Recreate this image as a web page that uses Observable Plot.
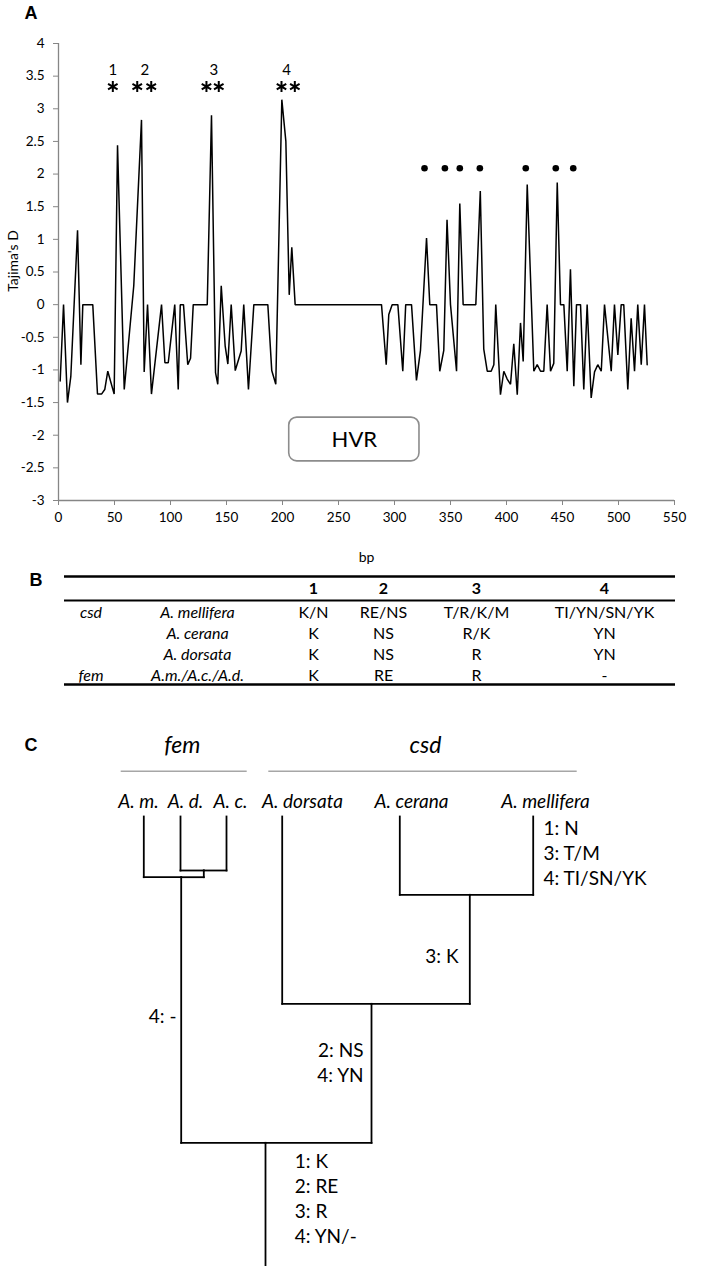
<!DOCTYPE html>
<html><head><meta charset="utf-8">
<script src="https://cdn.jsdelivr.net/npm/d3@7"></script>
<script src="https://cdn.jsdelivr.net/npm/@observablehq/plot@0.6"></script>
<style>
body{margin:0;background:#fff;}
#root{position:relative;width:702px;height:1266px;overflow:hidden;background:#fff;font-family:Lato,sans-serif;}
.plabel{position:absolute;font:bold 18px "Liberation Sans",Arial,sans-serif;transform:translate(-50%,-50%);line-height:1;}
</style></head><body><div id="root"></div>
<script>
// ---------- Panel A data ----------
const bp = [1.5,4.5,8,11,17,20,21.7,30.6,34.8,38.4,41.3,44,49.7,52.7,58.7,67.2,74.1,76.5,79.5,83,
92,95,98,103.8,106.9,108.7,111.6,115.4,117.9,120.3,132.8,136.6,140.2,142.2,145.3,148.8,151.2,154.2,157.8,163.1,
165.4,169.6,174.4,186.9,190.4,194,199.4,203,206,208.3,211.3,288.4,292.6,294.9,297.9,303,307.4,310,315.2,319.6,
323.2,328.6,331.5,337.5,340.4,344,346.9,350,355.4,358.3,361.3,372.6,376.6,379.7,382.8,386.3,388.7,390.4,394.6,397.6,400.6,
403.6,406.5,409.6,412.5,414.9,418.5,424.4,427.4,430.4,433.3,436.3,439.3,442.2,445.3,448.2,451.2,454.2,457.1,460.1,462.5,
466.1,469,472,475.6,478.6,481.5,484.6,487.5,493.5,496.4,499.4,502.4,504.7,508.3,511.3,514.3,517.2,520.3,523.2,525.6];
const tajimaD = [-1.17,0,-1.5,-1.1,1.14,-0.92,0,0,-1.37,-1.37,-1.3,-1.02,-1.37,2.44,-1.3,0.29,2.83,-1.03,0,-1.37,
0,-0.89,-0.89,0,-1.3,0,0,-0.92,-0.82,0,0,2.9,-1.04,-1.22,0.29,-0.63,-0.91,0,-1.01,-0.71,
0,-1.3,0,0,-1.01,-1.22,3.14,2.5,0.15,0.88,0,0,-0.92,-0.15,0,0,-1.02,0,0,-1.16,
-0.7,1.02,0,0,-1.02,-0.7,1.3,0,-1.02,1.55,0,0,1.74,-0.68,-1.02,-1.02,-0.92,0,-1.38,-1.02,-1.14,
-1.22,-0.6,-1.38,-0.28,-0.87,1.84,-1.02,-0.92,-1.02,-1.02,0,-1.02,-0.9,1.87,0,0,-1.02,0.54,-1.25,0,
0,-1.3,0,-1.43,-1.03,-0.92,-1.02,0,-1.02,0,-0.77,0,0,-1.3,-0.21,-1.02,0,-0.92,0,-0.92];
const yTickValues = [-3,-2.5,-2,-1.5,-1,-0.5,0,0.5,1,1.5,2,2.5,3,3.5,4];
const xTickValues = [0,50,100,150,200,250,300,350,400,450,500,550];
const peakIds = ["1","2","3","4"];
const peakBp = [48.5,77,138.7,203.6];
const peakLabelD = 3.59;
const starBp = [48.5,70.3,82.8,132.1,143.1,199.1,211];
const starD = 3.34;
const dotBp = [326.8,345,358.3,376.2,417.2,444,459.6];
const dotD = 2.09;
const hvrBox = {x1:206, x2:322.3, y1:-2.4, y2:-1.73, label:"HVR"};

// ---------- Panel B data ----------
const tableHeaders = ["","","1","2","3","4"];
const tableGenes = ["csd","","","fem"];
const tableSpecies = ["A. mellifera","A. cerana","A. dorsata","A.m./A.c./A.d."];
const site1 = ["K/N","K","K","K"];
const site2 = ["RE/NS","NS","NS","RE"];
const site3 = ["T/R/K/M","R/K","R","R"];
const site4 = ["TI/YN/SN/YK","YN","YN","-"];

// ---------- Panel C data ----------
const treeNodes = [
  {id:"root", parent:null},
  {id:"fem", parent:"root"},
  {id:"A. m.", parent:"fem"},
  {id:"femDC", parent:"fem"},
  {id:"A. d.", parent:"femDC"},
  {id:"A. c.", parent:"femDC"},
  {id:"csd", parent:"root"},
  {id:"A. dorsata", parent:"csd"},
  {id:"csdCM", parent:"csd"},
  {id:"A. cerana", parent:"csdCM"},
  {id:"A. mellifera", parent:"csdCM"}
];
const leafNames = ["A. m.","A. d.","A. c.","A. dorsata","A. cerana","A. mellifera"];
const groupNames = ["fem","csd"];
const mutations = [
  {at:"A. mellifera", lines:["1: N","3: T/M","4: TI/SN/YK"]},
  {at:"csdCM", lines:["3: K"]},
  {at:"fem", lines:["4: -"]},
  {at:"csd", lines:["2: NS","4: YN"]},
  {at:"root", lines:["1: K","2: RE","3: R","4: YN/-"]}
];

// ---------- Layout (positions, not data) ----------
const tableColX = [90.5,197,313,383,476,604];
const tableHeaderY = 588, tableRowY0 = 612, tableRowStep = 21.2;
const tableRules = [{y:576,w:2.5},{y:600,w:2},{y:684,w:2.5}];
const tableRuleX = [64,675];
const nodeX = {"root":265,"fem":180.7,"femDC":203.3,"A. m.":143.3,"A. d.":180,"A. c.":226,
  "csd":371,"A. dorsata":281.7,"csdCM":469.3,"A. cerana":399.3,"A. mellifera":532.7};
const nodeY = {"root":1142.3,"fem":876.7,"femDC":870,"csd":1003.3,"csdCM":894.3};
const leafTopY = 816, rootBottomY = 1266;
const leafLabelX = {"A. m.":138,"A. d.":185,"A. c.":230,"A. dorsata":302,"A. cerana":411,"A. mellifera":545};
const leafLabelY = 801;
const groupLayout = {"fem":{x:181.7,x1:120.7,x2:246.7},"csd":{x:425,x1:268.3,x2:576.7}};
const groupLabelY = 745, groupRuleY = 770.7;
const mutLayout = {"A. mellifera":{x:543,y:828,a:"start"},"csdCM":{x:458,y:956,a:"end"},
  "fem":{x:176,y:1016.7,a:"end"},"csd":{x:363,y:1050.7,a:"end"},"root":{x:294.3,y:1161.7,a:"start"}};
const mutStep = 25;

const root = document.getElementById("root");
const FONT = "Lato, sans-serif";

// ---------- Panel A ----------
const series = bp.map((x,i)=>({bp:x, D:tajimaD[i]}));
const chartA = Plot.plot({
  width:702, height:575, marginLeft:58, marginRight:28, marginTop:43, marginBottom:75,
  x:{domain:[0,550]}, y:{domain:[-3,4]},
  style:{fontFamily:FONT, fontSize:"13.5px", color:"#000", background:"transparent", overflow:"visible"},
  marks:[
    Plot.axisY({ticks:yTickValues, tickFormat:d=>String(d), tickSize:5, tickPadding:9, stroke:"#868686", fill:"#000", label:null, fontSize:13.5}),
    Plot.axisX({ticks:xTickValues, tickFormat:d=>String(d), tickSize:5, tickPadding:7, stroke:"#868686", fill:"#000", label:null, fontSize:13.5}),
    Plot.ruleX([0],{stroke:"#868686", strokeWidth:1.3}),
    Plot.ruleY([-3],{stroke:"#868686", strokeWidth:1.3}),
    Plot.line(series,{x:"bp", y:"D", stroke:"#000", strokeWidth:1.5, strokeLinejoin:"miter"}),
    Plot.text(peakIds,{x:(d,i)=>peakBp[i], y:()=>peakLabelD, text:d=>d, fontSize:15, fill:"#000"}),
    Plot.dot(starBp,{x:d=>d, y:()=>starD, symbol:"asterisk", r:5.2, stroke:"#000", strokeWidth:2}),
    Plot.dot(dotBp,{x:d=>d, y:()=>dotD, r:3.3, fill:"#000", stroke:"none"}),
    Plot.rect([hvrBox],{x1:"x1", x2:"x2", y1:"y1", y2:"y2", rx:8, fill:"#fff", stroke:"#8c8c8c", strokeWidth:1.6}),
    Plot.text([hvrBox],{x:d=>(d.x1+d.x2)/2, y:d=>(d.y1+d.y2)/2, text:"label", fontSize:22, fill:"#000"}),
    Plot.text(["Tajima's D"],{frameAnchor:"left", text:d=>d, rotate:-90, dx:-45, dy:-11, textAnchor:"middle", lineAnchor:"middle", fontSize:14, fill:"#000"}),
    Plot.text(["bp"],{frameAnchor:"bottom", text:d=>d, dy:57, lineAnchor:"middle", fontSize:14, fill:"#000"})
  ]
});
chartA.style.position="absolute"; chartA.style.left="0px"; chartA.style.top="0px";
root.appendChild(chartA);

// ---------- Panels B & C ----------
const TOP = 560;
const headerCells = tableHeaders.map((t,j)=>({x:tableColX[j], y:tableHeaderY, t})).filter(d=>d.t);
const bodyCells = [];
const cols = [tableGenes, tableSpecies, site1, site2, site3, site4];
cols.forEach((col,j)=>col.forEach((t,i)=>{ if(t) bodyCells.push({x:tableColX[j], y:tableRowY0+i*tableRowStep, t, italic:j<2}); }));

const segments = [];
treeNodes.forEach(n=>{
  const xc = nodeX[n.id], yc = nodeY[n.id] ?? leafTopY;
  if(n.parent){
    const yp = nodeY[n.parent], xp = nodeX[n.parent];
    segments.push({x1:xc,y1:yc,x2:xc,y2:yp});
    segments.push({x1:xc,y1:yp,x2:xp,y2:yp});
  } else {
    segments.push({x1:xc,y1:yc,x2:xc,y2:rootBottomY});
  }
});
const leafLabels = leafNames.map(n=>({x:leafLabelX[n], y:leafLabelY, t:n}));
const groups = groupNames.map(g=>({...groupLayout[g], t:g}));
const mutLabels = [];
mutations.forEach(m=>{ const L = mutLayout[m.at]; m.lines.forEach((t,k)=>mutLabels.push({x:L.x, y:L.y+k*mutStep, t, a:L.a})); });

const chartBC = Plot.plot({
  width:702, height:1266-TOP, margin:0,
  x:{domain:[0,702], range:[0,702], axis:null},
  y:{domain:[TOP,1266], range:[0,1266-TOP], axis:null},
  style:{fontFamily:FONT, color:"#000", background:"transparent", overflow:"visible"},
  marks:[
    // table
    Plot.ruleY(tableRules,{y:"y", x1:tableRuleX[0], x2:tableRuleX[1], strokeWidth:"w", stroke:"#000"}),
    Plot.text(headerCells,{x:"x", y:"y", text:"t", fontSize:16, fontWeight:"bold", fill:"#000"}),
    Plot.text(bodyCells.filter(d=>d.italic),{x:"x", y:"y", text:"t", fontSize:16, fontStyle:"italic", fill:"#000"}),
    Plot.text(bodyCells.filter(d=>!d.italic),{x:"x", y:"y", text:"t", fontSize:16, fill:"#000"}),
    // tree
    Plot.ruleY(groups,{y:()=>groupRuleY, x1:"x1", x2:"x2", stroke:"#a6a6a6", strokeWidth:1.6}),
    Plot.text(groups,{x:"x", y:()=>groupLabelY, text:"t", fontSize:23, fontStyle:"italic", fill:"#000"}),
    Plot.text(leafLabels,{x:"x", y:"y", text:"t", fontSize:19, fontStyle:"italic", fill:"#000"}),
    Plot.link(segments,{x1:"x1", y1:"y1", x2:"x2", y2:"y2", stroke:"#000", strokeWidth:1.8, strokeLinecap:"square"}),
    Plot.text(mutLabels.filter(d=>d.a==="start"),{x:"x", y:"y", text:"t", textAnchor:"start", fontSize:19, fill:"#000"}),
    Plot.text(mutLabels.filter(d=>d.a==="end"),{x:"x", y:"y", text:"t", textAnchor:"end", fontSize:19, fill:"#000"})
  ]
});
chartBC.style.position="absolute"; chartBC.style.left="0px"; chartBC.style.top=TOP+"px";
root.appendChild(chartBC);

// panel letters
[["A",31,13],["B",36,580],["C",31,745]].forEach(([t,x,y])=>{
  const d = document.createElement("div"); d.className="plabel"; d.textContent=t;
  d.style.left=x+"px"; d.style.top=y+"px"; root.appendChild(d);
});
</script></body></html>
